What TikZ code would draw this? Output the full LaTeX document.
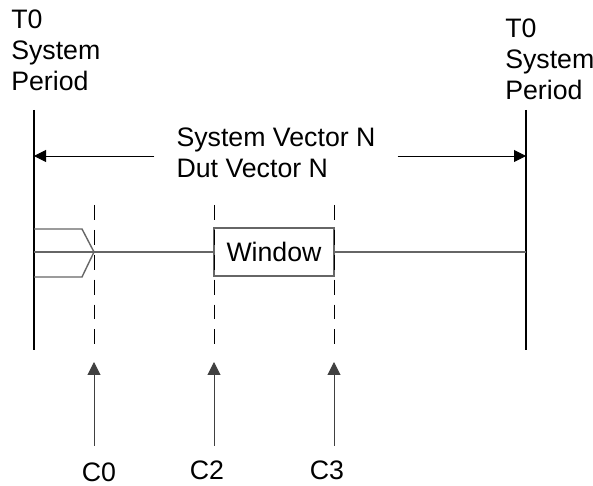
\documentclass[tikz,border=0pt]{standalone}
\usepackage{fontspec}
\setmainfont{Liberation Sans}
\usepackage{tikz}
\usetikzlibrary{arrows.meta,positioning}

\begin{document}
\begin{tikzpicture}[
  font=\fontsize{19}{22}\selectfont,
  bar/.style={draw=black,line width=2.1pt},
  sig/.style={draw=black!60,line width=1pt},
  cut/.style={draw=black,line width=0.7pt,dash pattern=on 10.6pt off 7.1pt},
  dim/.style={-{Triangle[length=0.3cm,width=0.3cm]},draw=black,line width=0.7pt},
  prb/.style={-{Triangle[length=0.32cm,width=0.32cm]},draw=black!75,line width=0.7pt},
  lbl/.style={align=left,anchor=north west,inner sep=0pt},
  win/.style={draw=black!60,line width=1pt,fill=white,
              minimum width=3cm,minimum height=1.2cm,inner sep=0pt}]
\useasboundingbox (0,0) rectangle (14.825,12.15);

% ---------------- period bars ----------------
\node[lbl] (t0l) at (0.275,11.90) {T0\\System\\Period};
\node[lbl] (t0r) at (12.625,11.675) {T0\\System\\Period};
\coordinate (lt) at (0.85,9.40);  \coordinate (lb) at (0.85,3.40);
\coordinate (rt) at (13.15,9.40); \coordinate (rb) at (13.15,3.40);
\draw[bar] (lt) -- (lb);
\draw[bar] (rt) -- (rb);

% ---------------- vector span ----------------
\coordinate (la) at (0.85,8.25); \coordinate (ra) at (13.15,8.25);
\node[align=left,inner xsep=0.55cm,inner ysep=0pt] (vec) at (6.90,8.34)
  {System Vector N\\Dut Vector N};
\draw[dim] (vec.west |- la) -- (la);
\draw[dim] (vec.east |- ra) -- (ra);

% ---------------- signal ----------------
\coordinate (s0) at (0.85,5.85); \coordinate (hx) at (2.35,5.85);
\coordinate (s1) at (13.15,5.85);
\draw[sig] (0.85,6.425) -- (2.05,6.425) -- (hx) -- (2.05,5.225) -- (0.85,5.225);
\node[win] (win) at (6.85,5.85) {Window};
\draw[sig] (s0) -- (hx) -- (win);
\draw[sig] (win) -- (s1);

% ---------------- strobes ----------------
\foreach \x/\n/\lx/\ly in {2.35/0/2.475/0.34,5.35/2/5.175/0.40,8.35/3/8.175/0.40} {
  \draw[cut] (\x,7.025) -- (\x,3.40);
  \coordinate (p\n) at (\x,1.00); \coordinate (q\n) at (\x,3.10);
  \draw[prb] (p\n) -- (q\n);
  \node (c\n) at (\lx,\ly) {C\n};
}
\end{tikzpicture}
\end{document}
